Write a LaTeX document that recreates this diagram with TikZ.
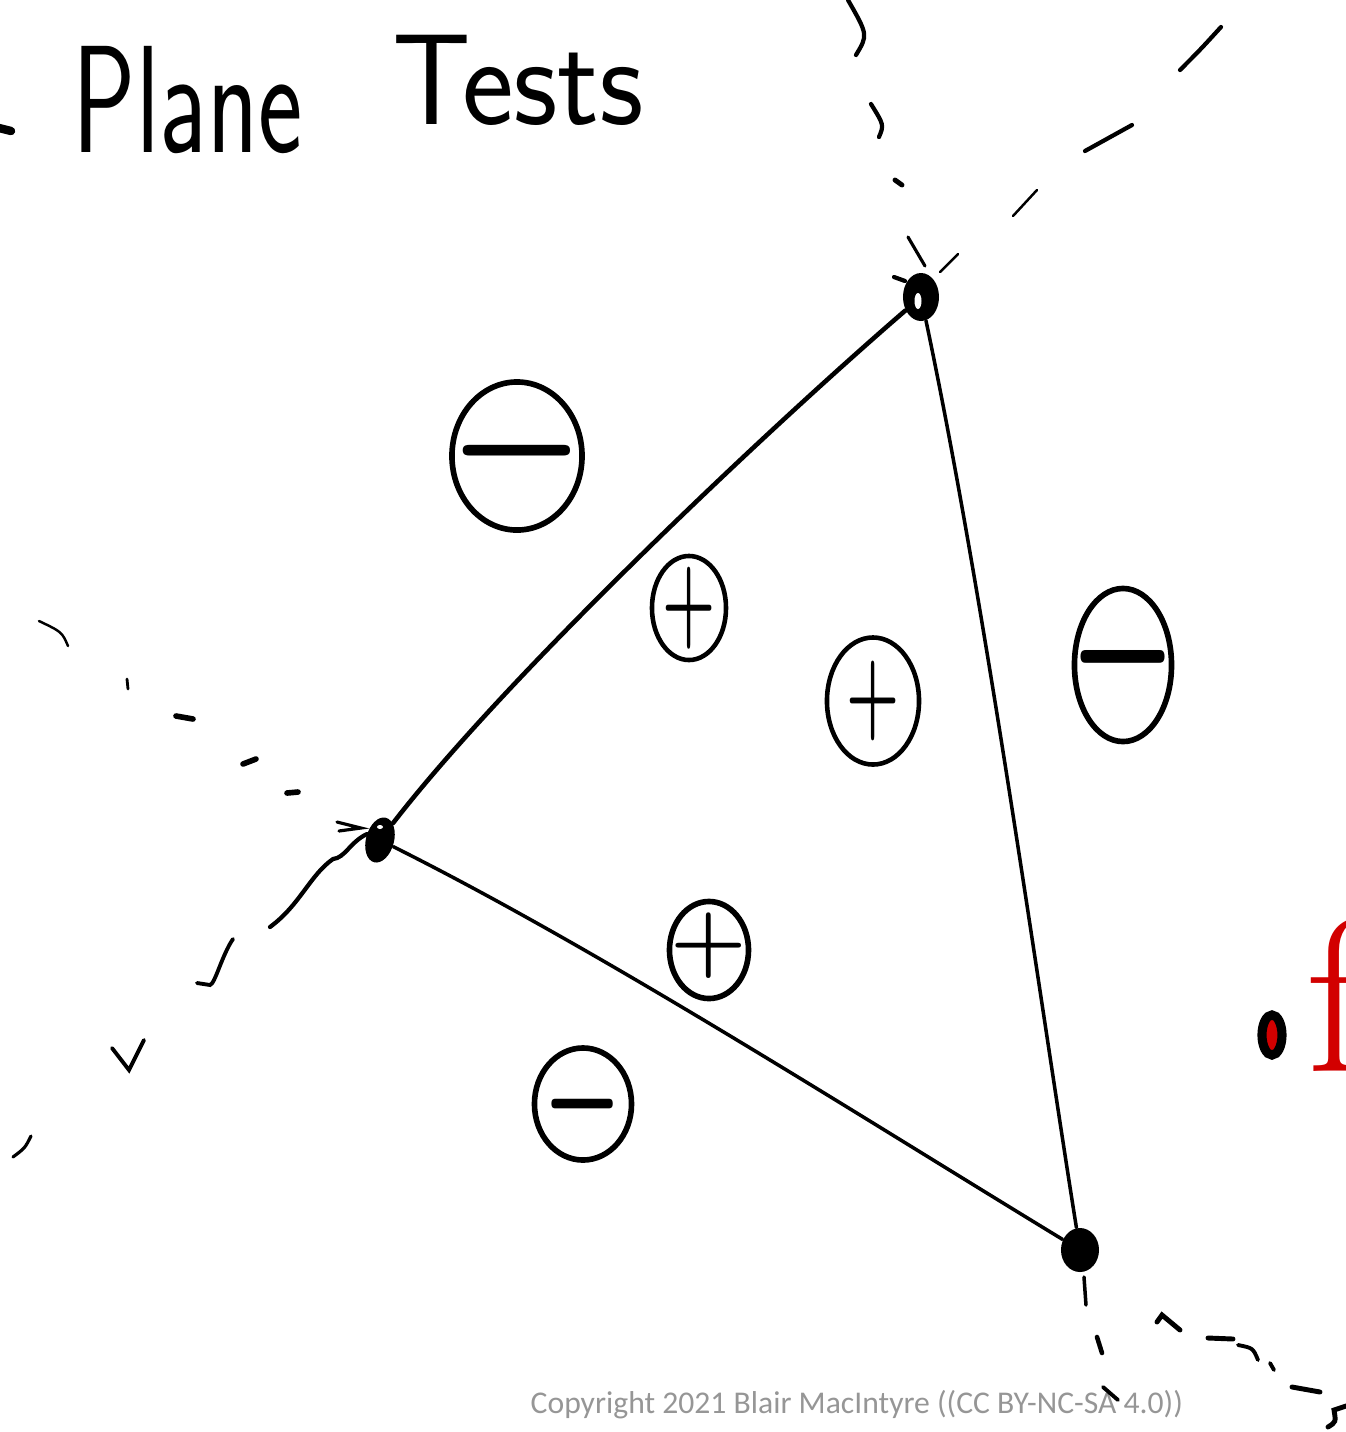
\documentclass[tikz,border=0pt]{standalone}
\usepackage{fontspec}
\usepackage{graphicx}
\usepackage{xcolor}
\usepackage{tikz}
\usetikzlibrary{positioning,shapes.geometric}
\newfontfamily\copyfont{Carlito}
\definecolor{inkred}{RGB}{210,0,0}
\definecolor{notegray}{RGB}{150,150,150}
\tikzset{
  vtx/.style={ellipse, fill=black, inner sep=0pt},
  sign/.style={ellipse, draw=black, line width=1.6pt, inner sep=0pt},
  signtext/.style={inner sep=0pt, font=\boldmath},
  tri/.style={line width=1pt, line cap=round},
  ext/.style={line width=0.9pt, line cap=round},
}

\begin{document}
\begin{tikzpicture}[x=0.01cm, y=-0.01cm]
    \useasboundingbox (0,0) rectangle (1346,1432);
    \clip (0,0) rectangle (1346,1432);
    % title
    \draw[line width=2.4pt, line cap=round] (-5,127) -- (11,131);
    \node[anchor=base west, inner sep=0pt] (plane) at (72,152) {\sffamily\fontsize{30}{30}\selectfont\scalebox{1}[1.45]{Plane}};
    \node[anchor=base west, inner sep=0pt] (tests) at (392,124) {\sffamily\fontsize{35}{35}\selectfont\scalebox{1}[1.05]{Tests}};
    % triangle
    \node[vtx, minimum width=0.36cm, minimum height=0.48cm] (vT) at (921,297) {};
    \node[vtx, minimum width=0.28cm, minimum height=0.46cm, rotate=-15] (vL) at (380,840) {};
    \node[vtx, minimum width=0.38cm, minimum height=0.44cm] (vB) at (1080,1250) {};
    \fill[white] (918,301) ellipse [x radius=0.035cm, y radius=0.08cm];
    \fill[white] (380,827) ellipse [x radius=0.03cm, y radius=0.02cm];
    \draw[tri, line width=1.3pt] (vL) .. controls (505,678) and (760,436) .. (vT);
    \draw[tri] (vT) .. controls (985,600) and (1040,1000) .. (vB);
    \draw[tri] (vL) .. controls (600,950) and (850,1110) .. (vB);
    % signs
    \node[sign, minimum width=1.30cm, minimum height=1.48cm] (mA) at (517,456) {};
    \node[sign, line width=1.3pt, minimum width=0.74cm, minimum height=1.04cm] (pA) at (689,608) {};
    \node[sign, line width=1.3pt, minimum width=0.92cm, minimum height=1.27cm] (pB) at (873,701) {};
    \node[sign, minimum width=0.97cm, minimum height=1.53cm] (mB) at (1123,665) {};
    \node[sign, minimum width=0.79cm, minimum height=0.97cm] (pC) at (709,950) {};
    \node[sign, minimum width=0.97cm, minimum height=1.12cm] (mC) at (583,1104) {};
    \node[signtext, yshift=0.05cm] (mAt) at (mA.center) {\fontsize{44}{44}\selectfont\scalebox{1.75}[2]{$-$}};
    \node[signtext] (pAt) at (pA.center) {\fontsize{17}{17}\selectfont\scalebox{1}[1.8]{$+$}};
    \node[signtext] (pBt) at (pB.center) {\fontsize{18}{18}\selectfont\scalebox{1}[1.75]{$+$}};
    \node[signtext, yshift=0.08cm] (mBt) at (mB.center) {\fontsize{34}{34}\selectfont\scalebox{1.37}[2.4]{$-$}};
    \node[signtext, yshift=0.04cm] (pCt) at (pC.center) {\fontsize{28}{28}\selectfont$+$};
    \node[signtext] (mCt) at (mC.center) {\fontsize{25}{25}\selectfont\scalebox{1}[1.8]{$-$}};
    % extensions past T
    \draw[ext, line width=0.7pt] (940,272) -- (958,254);
    \draw[ext, line width=0.7pt] (1013,216) -- (1037,190);
    \draw[ext, line width=1.2pt] (1085,151) -- (1132,125);
    \draw[ext, line width=1.2pt] (1180,70) .. controls (1200,50) .. (1221,27);
    \draw[ext] (908,237) -- (925,266);
    \draw[ext, line width=1.4pt] (895,180) -- (902,185);
    \draw[ext, line width=1.2pt] (871,104) .. controls (884,125) .. (879,137);
    \draw[ext, line width=1.2pt] (848,0) .. controls (868,35) .. (856,55);
    \draw[ext, line width=1.2pt] (894,277) -- (905,281);
    % extensions past L
    \draw[ext, line width=0.7pt] (39,621) .. controls (62,632) .. (68,646);
    \draw[ext, line width=0.8pt] (127,679) -- (128,689);
    \draw[ext, line width=1.6pt] (176,716) -- (193,719);
    \draw[ext, line width=1.6pt] (243,764) -- (256,759);
    \draw[ext, line width=1.6pt] (287,793) -- (298,792);
    \draw[ext, line width=0.9pt] (337,822) -- (361,828) -- (339,831);
    \draw[ext, line width=1.2pt] (367,834) .. controls (350,842) and (345,858) .. (333,859) .. controls (310,875) and (300,905) .. (270,927);
    \draw[ext, line width=1.1pt] (233,939) .. controls (222,955) and (215,984) .. (210,985) -- (197,983);
    \draw[ext, line width=1.1pt] (112,1048) -- (129,1070) -- (144,1040);
    \draw[ext, line width=0.9pt] (31,1136) .. controls (25,1148) .. (13,1157);
    % point and f
    \node[ellipse, draw=black, line width=2.6pt, fill=inkred, inner sep=0pt, minimum width=0.2cm, minimum height=0.4cm] (dot) at (1272,1035) {};
    \node[anchor=base west, inner sep=0pt, text=inkred] (fcut) at (1306,1071) {\fontsize{62}{62}\selectfont f};
    % copyright
    \node[anchor=base west, inner sep=0pt, text=notegray] (copy) at (530,1413) {\copyfont\fontsize{9}{11}\selectfont Copyright 2021 Blair MacIntyre ((CC BY-NC-SA 4.0))};
    % extensions past B
    \draw[ext, line width=1pt] (1084,1277) -- (1086,1305);
    \draw[ext, line width=1.3pt] (1097,1337) -- (1102,1353);
    \draw[ext, line width=1.1pt] (1103,1387) -- (1118,1400);
    \draw[ext, line width=1.4pt] (1157,1322) -- (1162,1315) -- (1180,1330);
    \draw[ext, line width=1.4pt] (1208,1338) -- (1233,1339);
    \draw[ext, line width=1.1pt] (1238,1345) .. controls (1253,1348) .. (1258,1360);
    \draw[ext, line width=1.1pt] (1270,1363) -- (1274,1370);
    \draw[ext, line width=1.4pt] (1292,1387) -- (1320,1392);
    \draw[ext, line width=1.4pt] (1346,1406) -- (1334,1410) .. controls (1336,1422) .. (1328,1427);
\end{tikzpicture}
\end{document}
